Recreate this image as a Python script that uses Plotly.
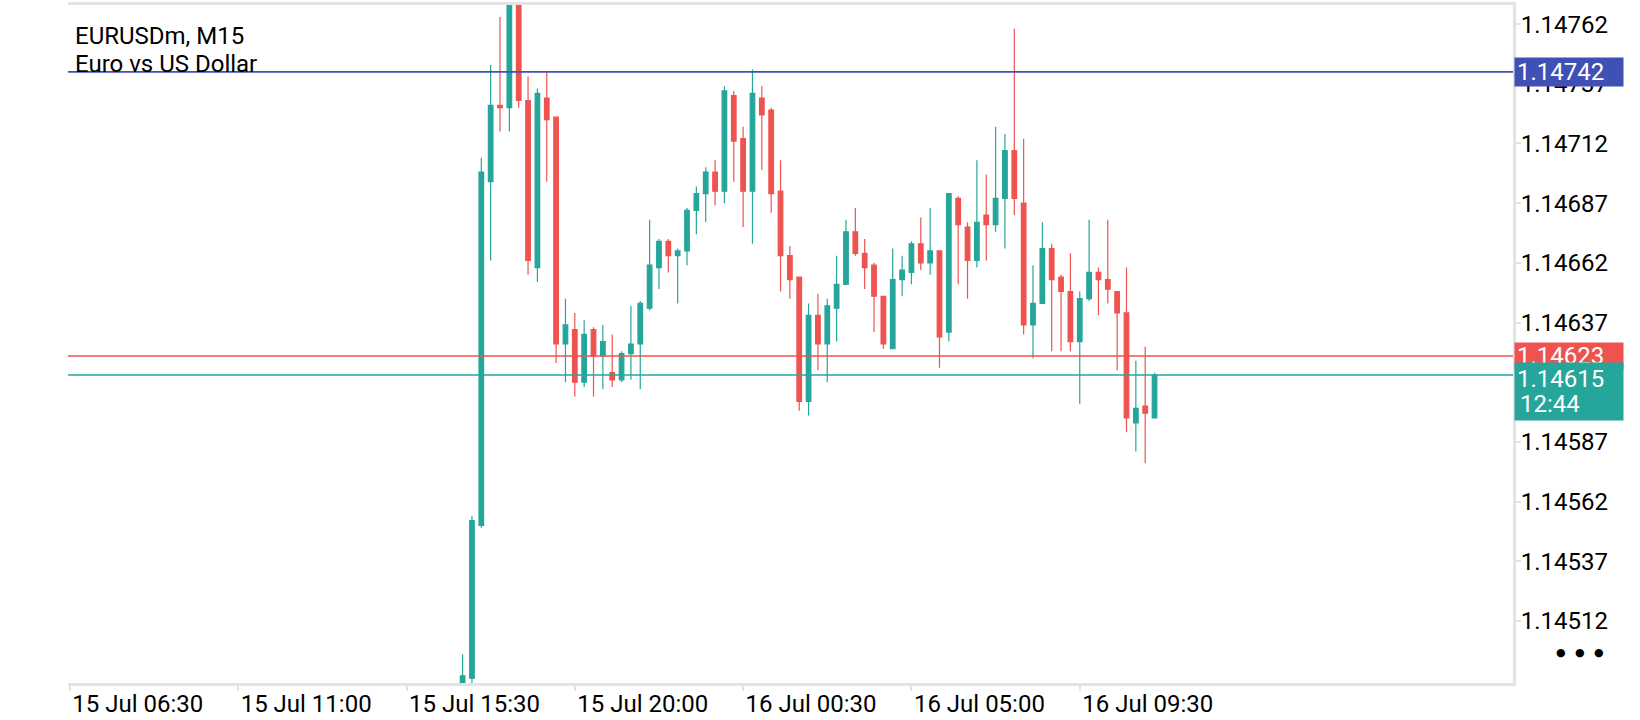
import pandas as pd
import plotly.graph_objects as go


# ==================================================
# 1. Data (EURUSDm, M15 bars)
# ==================================================

open_ = [
    1.14482, 1.14488, 1.14552, 1.14696, 1.14728, 1.14727, 1.14776, 1.14730, 1.14660, 1.14731,
    1.14723, 1.14628, 1.14634, 1.14612, 1.14634, 1.14623, 1.14616, 1.14613, 1.14624, 1.14628,
    1.14643, 1.14660, 1.14671, 1.14665, 1.14667, 1.14684, 1.14691, 1.14700, 1.14692, 1.14732,
    1.14714, 1.14692, 1.14731, 1.14726, 1.14692, 1.14665, 1.14656, 1.14604, 1.14640, 1.14628,
    1.14643, 1.14653, 1.14675, 1.14666, 1.14661, 1.14648, 1.14626, 1.14655, 1.14658, 1.14670,
    1.14662, 1.14667, 1.14633, 1.14689, 1.14677, 1.14663, 1.14682, 1.14678, 1.14689, 1.14709,
    1.14687, 1.14636, 1.14645, 1.14668, 1.14656, 1.14650, 1.14629, 1.14647, 1.14658, 1.14655,
    1.14650, 1.14641, 1.14595, 1.14602, 1.14597,
]

high = [
    1.14498, 1.14556, 1.14706, 1.14745, 1.14765, 1.14782, 1.14785, 1.14740, 1.14735, 1.14742,
    1.14723, 1.14647, 1.14641, 1.14638, 1.14635, 1.14636, 1.14632, 1.14625, 1.14644, 1.14646,
    1.14680, 1.14672, 1.14672, 1.14668, 1.14685, 1.14694, 1.14702, 1.14705, 1.14736, 1.14734,
    1.14719, 1.14743, 1.14736, 1.14727, 1.14705, 1.14669, 1.14656, 1.14645, 1.14649, 1.14647,
    1.14665, 1.14680, 1.14685, 1.14672, 1.14662, 1.14648, 1.14668, 1.14665, 1.14671, 1.14681,
    1.14685, 1.14667, 1.14691, 1.14690, 1.14679, 1.14705, 1.14699, 1.14719, 1.14716, 1.14760,
    1.14714, 1.14661, 1.14679, 1.14670, 1.14657, 1.14666, 1.14650, 1.14680, 1.14660, 1.14680,
    1.14650, 1.14660, 1.14621, 1.14627, 1.14616,
]

low = [
    1.14478, 1.14486, 1.14551, 1.14663, 1.14717, 1.14717, 1.14727, 1.14657, 1.14654, 1.14696,
    1.14620, 1.14612, 1.14606, 1.14610, 1.14606, 1.14609, 1.14610, 1.14612, 1.14613, 1.14609,
    1.14642, 1.14651, 1.14658, 1.14645, 1.14661, 1.14674, 1.14679, 1.14686, 1.14687, 1.14696,
    1.14677, 1.14670, 1.14701, 1.14683, 1.14650, 1.14647, 1.14600, 1.14598, 1.14617, 1.14612,
    1.14629, 1.14653, 1.14665, 1.14651, 1.14633, 1.14626, 1.14626, 1.14648, 1.14653, 1.14659,
    1.14657, 1.14618, 1.14629, 1.14653, 1.14647, 1.14660, 1.14663, 1.14675, 1.14668, 1.14682,
    1.14632, 1.14622, 1.14645, 1.14625, 1.14625, 1.14625, 1.14603, 1.14646, 1.14640, 1.14645,
    1.14617, 1.14591, 1.14583, 1.14578, 1.14597,
]

close = [
    1.14489, 1.14554, 1.14700, 1.14728, 1.14727, 1.14778, 1.14730, 1.14663, 1.14733, 1.14722,
    1.14628, 1.14636, 1.14612, 1.14632, 1.14623, 1.14629, 1.14613, 1.14624, 1.14628, 1.14645,
    1.14661, 1.14671, 1.14665, 1.14667, 1.14684, 1.14691, 1.14700, 1.14692, 1.14734, 1.14713,
    1.14692, 1.14733, 1.14724, 1.14691, 1.14665, 1.14655, 1.14604, 1.14640, 1.14628, 1.14644,
    1.14653, 1.14675, 1.14666, 1.14660, 1.14648, 1.14628, 1.14655, 1.14659, 1.14670, 1.14662,
    1.14667, 1.14631, 1.14691, 1.14678, 1.14663, 1.14679, 1.14678, 1.14689, 1.14709, 1.14689,
    1.14636, 1.14645, 1.14668, 1.14655, 1.14650, 1.14629, 1.14647, 1.14658, 1.14655, 1.14651,
    1.14641, 1.14597, 1.14601, 1.14599, 1.14615,
]

bar_times = pd.date_range("2025-07-15 17:00", periods=len(close), freq="15min")

# price levels drawn as lines
high_line = 1.14742
ask_line = 1.14623
bid_line = 1.14615
countdown = "12:44"

# axis ticks
price_ticks = [1.14512, 1.14537, 1.14562, 1.14587, 1.14612, 1.14637, 1.14662, 1.14687, 1.14712, 1.14737, 1.14762]
time_ticks = [
    "2025-07-15 06:30", "2025-07-15 11:00", "2025-07-15 15:30", "2025-07-15 20:00",
    "2025-07-16 00:30", "2025-07-16 05:00", "2025-07-16 09:30",
]
time_labels = [
    "15 Jul 06:30", "15 Jul 11:00", "15 Jul 15:30", "15 Jul 20:00",
    "16 Jul 00:30", "16 Jul 05:00", "16 Jul 09:30",
]


# ==================================================
# 2. Colours
# ==================================================

GREEN = "#26a69a"
RED = "#ef5350"
BLUE = "#3f51b5"
GRID = "#e3e3e3"
FONT = "Roboto"


# ==================================================
# 3. Candles
# ==================================================

fig = go.Figure()

fig.add_trace(go.Candlestick(
    x=bar_times,
    open=open_,
    high=high,
    low=low,
    close=close,
    increasing=dict(line=dict(color=GREEN, width=1.2), fillcolor=GREEN),
    decreasing=dict(line=dict(color=RED, width=1.2), fillcolor=RED),
    whiskerwidth=0,
    showlegend=False,
))

# horizontal price lines
fig.add_hline(y=high_line, line_color=BLUE, line_width=1.6)
fig.add_hline(y=ask_line, line_color=RED, line_width=1.6)
fig.add_hline(y=bid_line, line_color=GREEN, line_width=1.6)


# ==================================================
# 4. Labels
# ==================================================

# symbol name top-left
fig.add_annotation(
    text="EURUSDm, M15", xref="paper", yref="paper", x=0, y=1,
    xanchor="left", yanchor="middle", xshift=5, yshift=-31,
    showarrow=False, font=dict(family=FONT, size=24, color="black"),
)
fig.add_annotation(
    text="Euro vs US Dollar", xref="paper", yref="paper", x=0, y=1,
    xanchor="left", yanchor="middle", xshift=5, yshift=-59,
    showarrow=False, font=dict(family=FONT, size=24, color="black"),
)

# price boxes on the right scale
fig.add_annotation(
    text="1.14742", xref="paper", yref="y", x=1, y=high_line,
    xanchor="left", yanchor="middle", xshift=1,
    width=104, height=24, align="left", borderpad=2,
    bgcolor=BLUE, showarrow=False,
    font=dict(family=FONT, size=24, color="white"),
)
fig.add_annotation(
    text="1.14623", xref="paper", yref="y", x=1, y=ask_line,
    xanchor="left", yanchor="middle", xshift=1,
    width=104, height=22, align="left", borderpad=2,
    bgcolor=RED, showarrow=False,
    font=dict(family=FONT, size=24, color="white"),
)
fig.add_annotation(
    text="1.14615", xref="paper", yref="y", x=1, y=bid_line,
    xanchor="left", yanchor="top", xshift=1, yshift=13,
    width=104, height=53, align="left", valign="top", borderpad=2,
    bgcolor=GREEN, showarrow=False,
    font=dict(family=FONT, size=24, color="white"),
)
fig.add_annotation(
    text=countdown, xref="paper", yref="y", x=1, y=bid_line,
    xanchor="left", yanchor="middle", xshift=5, yshift=-29,
    showarrow=False,
    font=dict(family=FONT, size=24, color="white"),
)

# menu dots
for dot_shift in [48, 67, 86]:
    fig.add_annotation(
        text="●", xref="paper", yref="paper", x=1, y=0.045,
        xanchor="center", yanchor="middle", xshift=dot_shift,
        showarrow=False, font=dict(family="DejaVu Sans", size=11, color="black"),
    )


# ==================================================
# 5. Layout
# ==================================================

fig.update_layout(
    width=1640,
    height=720,
    margin=dict(l=68, r=127, t=2, b=29),
    plot_bgcolor="white",
    paper_bgcolor="white",
    font=dict(family=FONT, size=24, color="black"),
    xaxis=dict(
        type="date",
        range=["2025-07-15 06:27", "2025-07-16 21:05"],
        rangeslider=dict(visible=False),
        tickvals=time_ticks,
        ticktext=time_labels,
        ticks="outside",
        ticklen=5,
        tickwidth=2,
        tickcolor=GRID,
        ticklabelposition="outside right",
        ticklabelstandoff=-3,
        showgrid=False,
        showline=True,
        linecolor=GRID,
        linewidth=3,
        mirror=True,
        zeroline=False,
        tickfont=dict(family=FONT, size=24, color="black"),
    ),
    yaxis=dict(
        side="right",
        range=[1.14486, 1.14770],
        tickvals=price_ticks,
        tickformat=".5f",
        ticks="outside",
        ticklen=5,
        tickwidth=2,
        tickcolor=GRID,
        ticklabelstandoff=-5,
        showgrid=False,
        showline=True,
        linecolor=GRID,
        linewidth=3,
        zeroline=False,
        tickfont=dict(family=FONT, size=24, color="black"),
    ),
)


# page without the default body margin, no toolbar
fig.write_html(
    "out.html",
    config={"displayModeBar": False},
    post_script="document.body.style.margin='0px';",
)
